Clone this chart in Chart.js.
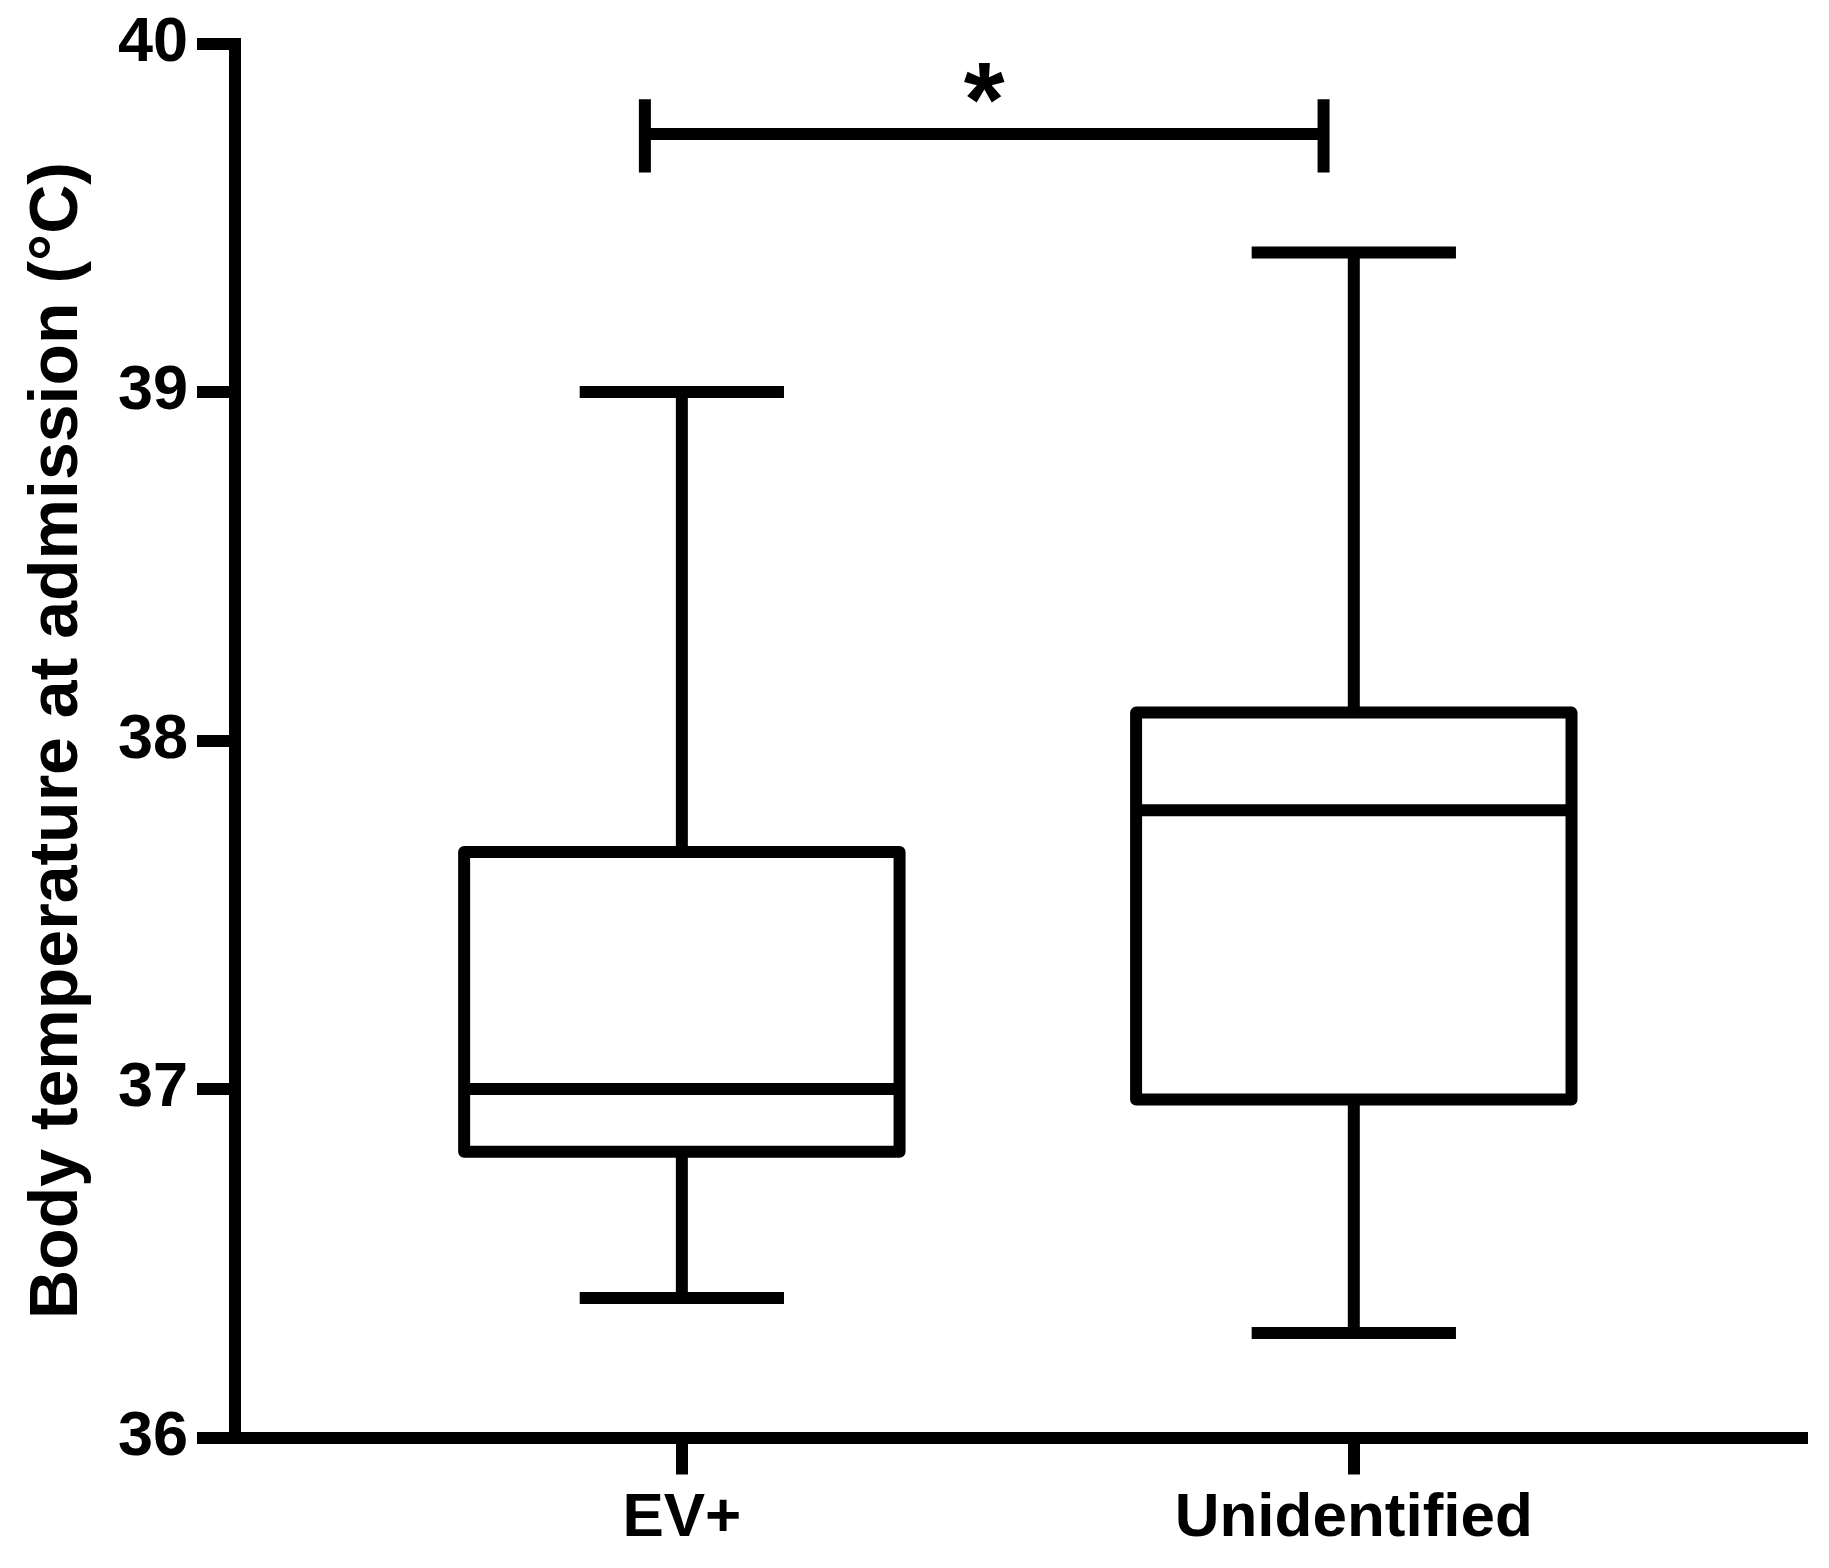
<!DOCTYPE html>
<html>
<head>
<meta charset="utf-8">
<style>
  html, body { margin: 0; padding: 0; background: #ffffff; }
  #wrap { width: 1829px; height: 1568px; }
</style>
<script src="https://cdn.jsdelivr.net/npm/chart.js@4.4.1/dist/chart.umd.min.js"></script>
</head>
<body>
<div id="wrap"><canvas id="c" width="1829" height="1568"></canvas></div>
<script>
// ---- data ----
const categories = ['EV+', 'Unidentified'];
const whiskerMin = [36.4, 36.3];
const q1 = [36.82, 36.97];
const median = [37.0, 37.8];
const q3 = [37.68, 38.08];
const whiskerMax = [39.0, 39.4];
const yTicks = [36, 37, 38, 39, 40];
const sigBarY = 39.74;
const sigLabel = '*';
const yTitle = 'Body temperature at admission (°C)';

// ---- layout / style constants ----
const FONT = "'Liberation Sans', Arial, Helvetica, sans-serif";
const LW = 12;
const boxHalf = 0.324;
const capHalf = 0.152;
const sigLeft = 0.945, sigRight = 1.955, sigTickUp = 0.10, sigTickDown = 0.11;
const xMin = 0.335, xMax = 2.667;

function boxPoints(i) {
  const c = i + 1;
  return [
    {x: c, y: q1[i]}, {x: c + boxHalf, y: q1[i]}, {x: c + boxHalf, y: q3[i]},
    {x: c - boxHalf, y: q3[i]}, {x: c - boxHalf, y: q1[i]}, {x: c, y: q1[i]}
  ];
}
function medianPoints(i) {
  const c = i + 1;
  return [{x: c - boxHalf, y: median[i]}, {x: c + boxHalf, y: median[i]}];
}
function whiskerPoints(i) {
  const c = i + 1;
  return [
    {x: c, y: q3[i]}, {x: c, y: whiskerMax[i]}, {x: c, y: null},
    {x: c - capHalf, y: whiskerMax[i]}, {x: c + capHalf, y: whiskerMax[i]}, {x: c, y: null},
    {x: c, y: q1[i]}, {x: c, y: whiskerMin[i]}, {x: c, y: null},
    {x: c - capHalf, y: whiskerMin[i]}, {x: c + capHalf, y: whiskerMin[i]}
  ];
}
const sigPoints = [
  {x: sigLeft, y: sigBarY + sigTickUp}, {x: sigLeft, y: sigBarY - sigTickDown}, {x: sigLeft, y: null},
  {x: sigLeft, y: sigBarY}, {x: sigRight, y: sigBarY}, {x: sigRight, y: null},
  {x: sigRight, y: sigBarY + sigTickUp}, {x: sigRight, y: sigBarY - sigTickDown}
];

function lineDs(data, join) {
  return {
    type: 'scatter', data, showLine: true, spanGaps: false,
    borderColor: '#000', backgroundColor: '#000', borderWidth: LW,
    pointRadius: 0, pointHoverRadius: 0, tension: 0,
    borderJoinStyle: join || 'miter', borderCapStyle: 'butt', clip: false
  };
}

const datasets = [];
categories.forEach((_, i) => {
  datasets.push(lineDs(whiskerPoints(i)));
  datasets.push(lineDs(boxPoints(i), 'round'));
  datasets.push(lineDs(medianPoints(i)));
});
datasets.push(lineDs(sigPoints));

const starPlugin = {
  id: 'star',
  afterDatasetsDraw(chart) {
    const {ctx, scales: {x, y}} = chart;
    const px = x.getPixelForValue((sigLeft + sigRight) / 2);
    const py = y.getPixelForValue(sigBarY);
    ctx.save();
    ctx.fillStyle = '#000';
    ctx.font = "bold 105px " + FONT;
    ctx.textAlign = 'center';
    ctx.textBaseline = 'alphabetic';
    ctx.fillText(sigLabel, px, py + 2);
    ctx.restore();
  }
};

new Chart(document.getElementById('c'), {
  type: 'scatter',
  data: {datasets},
  plugins: [starPlugin],
  options: {
    responsive: false,
    animation: false,
    devicePixelRatio: 1,
    layout: {padding: {left: 0, top: 43.5, right: 27, bottom: 0}},
    plugins: {legend: {display: false}, tooltip: {enabled: false}},
    scales: {
      x: {
        type: 'linear', min: xMin, max: xMax,
        afterBuildTicks(scale) { scale.ticks = categories.map((_, i) => ({value: i + 1})); },
        afterFit(scale) { scale.height = 130.5; },
        ticks: {
          color: '#000', padding: 7, maxRotation: 0, autoSkip: false,
          font: {family: FONT, size: 62, weight: 'bold', lineHeight: 1.2},
          callback: (v) => categories[Math.round(v) - 1] || ''
        },
        grid: {drawOnChartArea: false, drawTicks: true, tickLength: 37, lineWidth: LW, color: '#000'},
        border: {display: true, width: LW, color: '#000'}
      },
      y: {
        type: 'linear', min: 36, max: 40,
        afterBuildTicks(scale) { scale.ticks = yTicks.map(v => ({value: v})); },
        afterFit(scale) { scale.width = 235; },
        ticks: {
          color: '#000', padding: 9,
          font: {family: FONT, size: 63, weight: 'bold', lineHeight: 1.0}
        },
        grid: {drawOnChartArea: false, drawTicks: true, tickLength: 38, lineWidth: LW, color: '#000'},
        border: {display: true, width: LW, color: '#000'},
        title: {
          display: true, text: yTitle, color: '#000',
          font: {family: FONT, size: 68, weight: 'bold', lineHeight: 1.2},
          padding: {top: 17, bottom: 0}
        }
      }
    }
  }
});
</script>
</body>
</html>
